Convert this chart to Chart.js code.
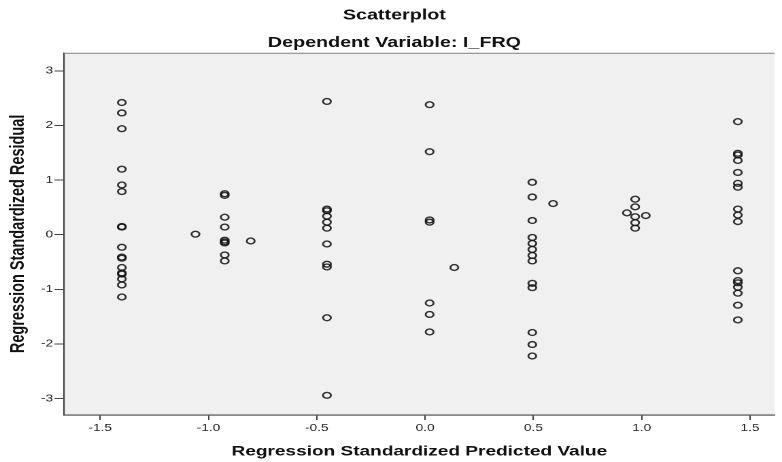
<!DOCTYPE html>
<html>
<head>
<meta charset="utf-8">
<script src="https://cdn.jsdelivr.net/npm/chart.js@4.4.1/dist/chart.umd.min.js"></script>
<style>
  html, body { margin: 0; padding: 0; background: #ffffff; overflow: hidden; }
  #wrap { position: absolute; left: 0; top: 0; width: 575px; height: 462px;
          transform: scaleX(1.36); transform-origin: 0 0; }
</style>
</head>
<body>
<div id="wrap"><canvas id="c"></canvas></div>
<script>
// Regression standardized predicted value of each vertical group of points
const predictedLevels = [-1.40, -1.06, -0.925, -0.805, -0.453, 0.021, 0.135, 0.495, 0.591, 0.932, 0.970, 1.019, 1.444];
// Regression standardized residuals observed at each predicted level
const residualsByLevel = [
  [2.42, 2.23, 1.94, 1.20, 0.91, 0.79, 0.15, 0.14, -0.23, -0.41, -0.43, -0.60, -0.70, -0.72, -0.81, -0.92, -1.14],
  [0.01],
  [0.75, 0.72, 0.32, 0.14, -0.10, -0.13, -0.15, -0.37, -0.48],
  [-0.115],
  [2.44, 0.47, 0.44, 0.34, 0.23, 0.12, -0.17, -0.54, -0.59, -1.52, -2.94],
  [2.38, 1.52, 0.27, 0.23, -1.25, -1.46, -1.78],
  [-0.60],
  [0.96, 0.69, 0.26, -0.05, -0.16, -0.27, -0.38, -0.48, -0.89, -0.97, -1.79, -2.01, -2.22],
  [0.57],
  [0.40],
  [0.65, 0.51, 0.33, 0.22, 0.12],
  [0.35],
  [2.07, 1.49, 1.46, 1.36, 1.14, 0.94, 0.87, 0.47, 0.36, 0.24, -0.66, -0.84, -0.88, -0.96, -1.07, -1.29, -1.56]
];
const chartTitle = 'Scatterplot';
const chartSubtitle = 'Dependent Variable: I_FRQ';
const xAxisTitle = 'Regression Standardized Predicted Value';
const yAxisTitle = 'Regression Standardized Residual';

const points = [];
predictedLevels.forEach((x, i) => residualsByLevel[i].forEach(y => points.push({x: x, y: y})));

const FONT = "'Liberation Sans', Arial, sans-serif";

const framePlugin = {
  id: 'frame',
  beforeDraw(chart) {
    const {ctx, chartArea: a} = chart;
    ctx.save();
    ctx.fillStyle = '#f0f0f0';
    ctx.fillRect(a.left, a.top, a.right - a.left, a.bottom - a.top);
    ctx.restore();
  },
  afterDraw(chart) {
    const {ctx, chartArea: a} = chart;
    ctx.save();
    ctx.strokeStyle = '#8c8c8c';
    ctx.lineWidth = 1.2;
    ctx.beginPath();
    ctx.moveTo(a.left, a.top + 0.5);
    ctx.lineTo(a.right, a.top + 0.5);
    ctx.stroke();
    ctx.restore();
  }
};

new Chart(document.getElementById('c'), {
  type: 'scatter',
  data: {
    datasets: [{
      data: points,
      pointStyle: 'circle',
      pointRadius: 2.9,
      pointBorderWidth: 1.4,
      pointBorderColor: 'rgba(15,15,15,0.85)',
      pointBackgroundColor: 'rgba(0,0,0,0)',
      showLine: false
    }]
  },
  options: {
    responsive: true,
    maintainAspectRatio: false,
    animation: false,
    devicePixelRatio: 2,
    events: [],
    layout: { padding: { left: 5, right: 0, top: 0, bottom: 0 } },
    plugins: {
      legend: { display: false },
      tooltip: { enabled: false },
      title: {
        display: true, text: chartTitle, color: '#111',
        font: { family: FONT, size: 14.5, weight: 'bold' },
        padding: { top: 7, bottom: 10 }
      },
      subtitle: {
        display: true, text: chartSubtitle, color: '#111',
        font: { family: FONT, size: 14.5, weight: 'bold' },
        padding: { top: 0, bottom: 1 }
      }
    },
    scales: {
      x: {
        type: 'linear', min: -1.667, max: 1.614,
        afterFit(s) { s.height = 47; },
        ticks: { stepSize: 0.5, includeBounds: false, padding: 2, color: '#222',
                 font: { family: FONT, size: 10 },
                 callback: v => Number(v).toFixed(1) },
        grid: { display: true, drawOnChartArea: false, drawTicks: true, tickLength: 5, tickColor: '#444', tickWidth: 1 },
        border: { display: true, color: '#444', width: 1.1 },
        title: { display: true, text: xAxisTitle, color: '#111',
                 font: { family: FONT, size: 14, weight: 'bold' },
                 padding: { top: 0, bottom: 2 } }
      },
      y: {
        type: 'linear', min: -3.30, max: 3.33,
        afterFit(s) { s.width = 42.06; },
        ticks: { stepSize: 1, includeBounds: false, padding: 1, color: '#222',
                 font: { family: FONT, size: 10 },
                 callback: v => String(v) },
        grid: { display: true, drawOnChartArea: false, drawTicks: true, tickLength: 7, tickColor: '#444', tickWidth: 1 },
        border: { display: true, color: '#444', width: 1.1 },
        title: { display: true, text: yAxisTitle, color: '#111',
                 font: { family: FONT, size: 14.5, weight: 'bold' },
                 padding: { top: 0, bottom: 0 } }
      }
    }
  },
  plugins: [framePlugin]
});
</script>
</body>
</html>
